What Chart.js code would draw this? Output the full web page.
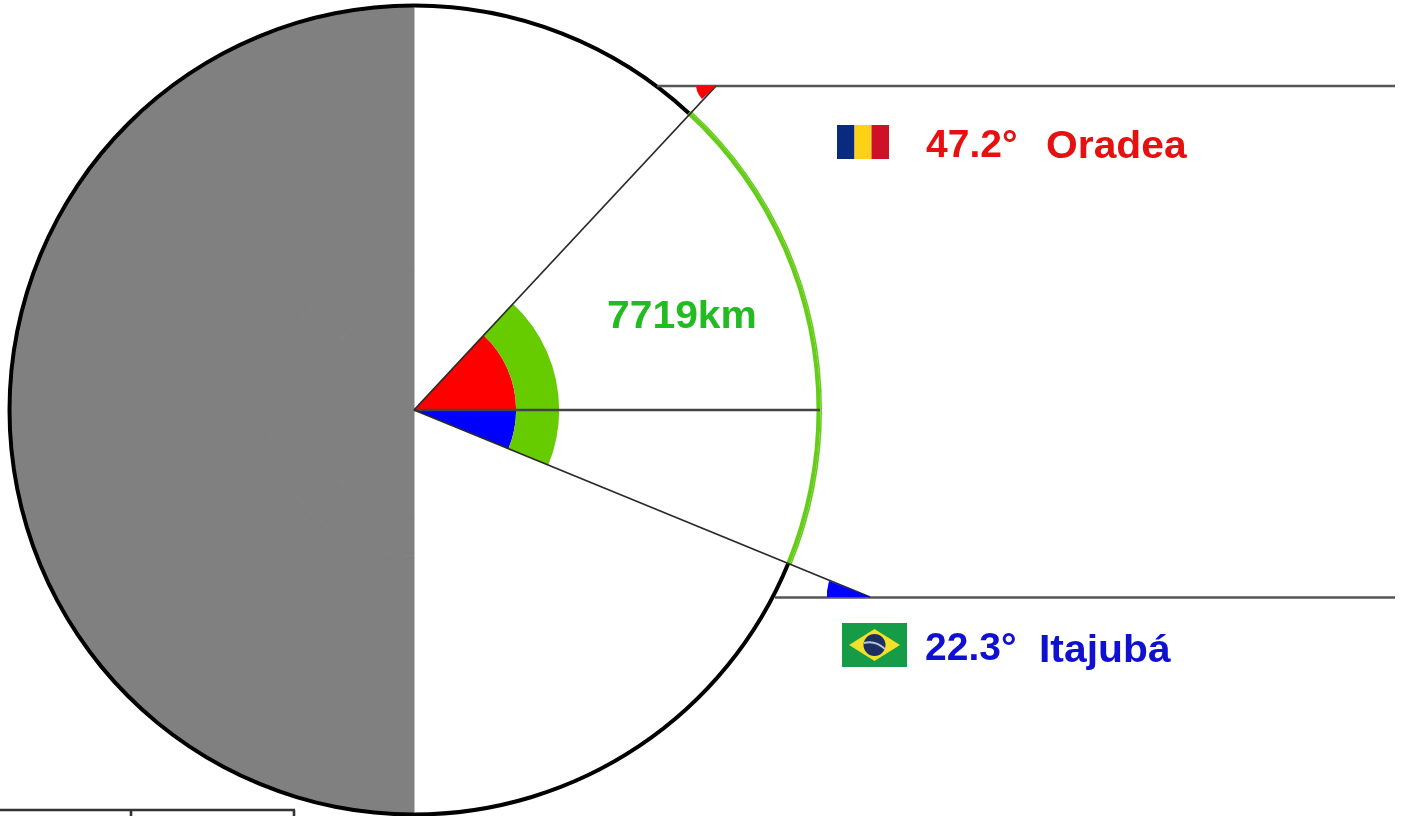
<!DOCTYPE html>
<html>
<head>
<meta charset="utf-8">
<script src="https://cdn.jsdelivr.net/npm/chart.js@4/dist/chart.umd.min.js"></script>
<style>
  html, body { margin: 0; padding: 0; background: #fff; }
  #stage { position: relative; width: 1407px; height: 816px; overflow: hidden; }
  canvas { position: absolute; left: 0; top: 0; }
  .lbl { position: absolute; font-family: "Liberation Sans", Arial, sans-serif; font-weight: bold; font-size: 39px; line-height: 1; white-space: pre; transform-origin: left center; }
  .wide { transform: scaleX(1.047); }
  svg { position: absolute; }
</style>
</head>
<body>
<div id="stage">
  <canvas id="disc" width="1407" height="830"></canvas>
  <canvas id="lines" width="1407" height="816"></canvas>
  <span class="lbl" style="left:926px;top:124px;color:#e5100f">47.2°</span>
  <span class="lbl wide" style="left:1046px;top:125px;color:#e5100f">Oradea</span>
  <span class="lbl wide" style="left:607px;top:295px;color:#22bb22">7719km</span>
  <span class="lbl" style="left:925px;top:627px;color:#0f10d0">22.3°</span>
  <span class="lbl wide" style="left:1039px;top:629px;color:#0f10d0">Itajubá</span>
  <svg style="left:837px;top:125px" width="52" height="34">
    <rect x="0" width="17.5" height="34" fill="#0a2a7f"/>
    <rect x="17.5" width="17" height="34" fill="#fcd116"/>
    <rect x="34.5" width="17.5" height="34" fill="#ce1126"/>
  </svg>
  <svg style="left:842px;top:623px" width="65" height="44">
    <rect width="65" height="44" fill="#169b46"/>
    <polygon points="7,22 32.5,6 58,22 32.5,38" fill="#f2e02a"/>
    <circle cx="32.5" cy="22" r="11" fill="#1b2f62"/>
    <path d="M22,20 Q33,17 43,26" stroke="#b9c6d6" stroke-width="2" fill="none"/>
  </svg>
</div>
<script>
// Latitudes in degrees
const OradeaLat = 47.2;
const ItajubaLat = 22.3;

// Slices clockwise from the north pole: north, Oradea, Itajuba, south, night side
const slices = [90 - OradeaLat, OradeaLat, ItajubaLat, 90 - ItajubaLat, 180];

const GREY = "#808080";
const GREEN = "#66cc00";
const ARC = "#66cc1a";
const NONE = "rgba(0,0,0,0)";

// Ring thickness, outside to centre
const arcEdgeWeight = 1.5;
const rimWeight = 4;
const gapWeight = 257;
const greenWeight = 43;
const coreWeight = 102;

new Chart(document.getElementById("disc"), {
  type: "doughnut",
  data: {
    datasets: [
      { data: slices, weight: arcEdgeWeight, backgroundColor: [NONE, ARC, ARC, NONE, NONE], borderWidth: 0 },
      { data: slices, weight: rimWeight, backgroundColor: ["#000", ARC, ARC, "#000", "#000"], borderWidth: 0 },
      { data: slices, weight: gapWeight, backgroundColor: [NONE, NONE, NONE, NONE, GREY], borderWidth: [0, 0, 0, 0, 1], borderColor: GREY },
      { data: slices, weight: greenWeight, backgroundColor: [NONE, GREEN, GREEN, NONE, GREY], borderWidth: [0, 0, 0, 0, 1], borderColor: GREY },
      { data: slices, weight: coreWeight, backgroundColor: [NONE, "#ff0000", "#0000ff", NONE, GREY], borderWidth: [0, 0, 0, 0, 1], borderColor: GREY },
    ],
  },
  options: {
    responsive: false,
    animation: false,
    cutout: 0,
    layout: { padding: { left: 0, right: 579, top: 2, bottom: 12 } },
    plugins: { legend: { display: false }, tooltip: { enabled: false } },
  },
});

// Lines and wedges
const oradeaRay = [[414, 410], [716, 86]];
const itajubaRay = [[414, 410], [870, 597]];
const equator = [[414, 410], [820, 410]];
const oradeaSun = [[657, 86], [1395, 86]];
const itajubaSun = [[775, 597.5], [1395, 597.5]];
const tableTop = [[0, 810], [295, 810]];
const tableMid = [[131, 810], [131, 816]];
const tableEnd = [[294, 810], [294, 816]];
const oradeaWedge = [[716, 86], [696, 86], [697, 91], [699, 95], [702, 99]];
const itajubaWedge = [[870, 597], [827, 597], [827, 591], [829, 581]];

const pts = (a) => a.map((p) => ({ x: p[0], y: p[1] }));
const line = (a, color, width) => ({ type: "line", data: pts(a), borderColor: color, borderWidth: width, pointRadius: 0, fill: false });
const wedge = (a, color) => ({ type: "line", data: pts(a), borderColor: color, backgroundColor: color, borderWidth: 0, pointRadius: 0, fill: "shape" });

new Chart(document.getElementById("lines"), {
  type: "scatter",
  data: {
    datasets: [
      wedge(oradeaWedge, "#ff0000"),
      wedge(itajubaWedge, "#0000ff"),
      line(oradeaRay, "#2a2a2a", 1.8),
      line(itajubaRay, "#2a2a2a", 1.8),
      line(equator, "#444", 2.4),
      line(oradeaSun, "#555", 2.4),
      line(itajubaSun, "#555", 2.4),
      line(tableTop, "#333", 2.6),
      line(tableMid, "#333", 2.6),
      line(tableEnd, "#333", 2.6),
    ],
  },
  options: {
    responsive: false,
    animation: false,
    layout: { padding: 0 },
    scales: {
      x: { type: "linear", min: 0, max: 1407, display: false },
      y: { type: "linear", min: 0, max: 816, reverse: true, display: false },
    },
    plugins: { legend: { display: false }, tooltip: { enabled: false } },
  },
});
</script>
</body>
</html>
